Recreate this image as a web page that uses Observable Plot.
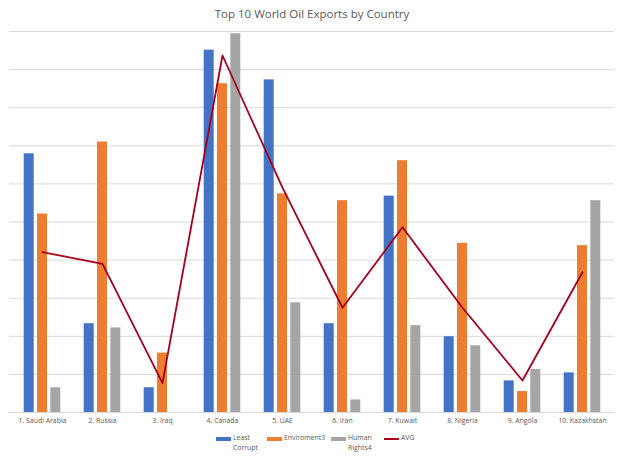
<!DOCTYPE html>
<html>
<head>
<meta charset="utf-8">
<script src="https://cdn.jsdelivr.net/npm/d3@7"></script>
<script src="https://cdn.jsdelivr.net/npm/@observablehq/plot@0.6"></script>
<style>
  body { margin: 0; background: #fff; font-family: "Open Sans", "Liberation Sans", sans-serif; color: #595959; }
  #wrap { width: 624px; height: 459px; position: relative; overflow: hidden; }
  #title { height: 26px; line-height: 28px; text-align: center; font-size: 11.5px; color: #595959; }
  #legend { position: absolute; top: 433px; left: 0; width: 624px; height: 26px; font-size: 6.9px; color: #595959; }
  .item { position: absolute; top: 0; display: flex; align-items: flex-start; }
  .sw { width: 15px; height: 4px; margin-top: 3.5px; margin-right: 2px; }
  .ln { width: 15px; height: 2px; margin-top: 4.5px; margin-right: 2px; }
  .lab { line-height: 9.5px; }
</style>
</head>
<body>
<div id="wrap">
  <div id="title">Top 10 World Oil Exports by Country</div>
  <div id="chart"></div>
  <div id="legend"></div>
</div>
<script>
const countries = ["1. Saudi Arabia", "2. Russia", "3. Iraq", "4. Canada", "5. UAE", "6. Iran", "7. Kuwait", "8. Nigeria", "9. Angola", "10. Kazakhstan"];
const leastCorrupt = [6.79, 2.33, 0.65, 9.51, 8.73, 2.33, 5.68, 1.99, 0.83, 1.04];
const enviroment3 = [5.21, 7.10, 1.56, 8.63, 5.74, 5.56, 6.61, 4.44, 0.55, 4.38];
const humanRights4 = [0.65, 2.22, 0, 9.94, 2.88, 0.33, 2.28, 1.75, 1.13, 5.56];
const avg = [4.21, 3.90, 0.77, 9.37, 5.90, 2.75, 4.86, 2.75, 0.84, 3.68];
const gridTicks = [0, 1, 2, 3, 4, 5, 6, 7, 8, 9, 10];

const colors = { blue: "#4472C4", orange: "#ED7D31", gray: "#A5A5A5", red: "#A8001C" };

const rows = countries.map((c, i) => ({ country: c, lc: leastCorrupt[i], env: enviroment3[i], hr: humanRights4[i], avg: avg[i] }));

const chart = Plot.plot({
  width: 624,
  height: 406,
  marginLeft: 9,
  marginRight: 10,
  marginTop: 5,
  marginBottom: 20,
  x: { type: "band", domain: countries, padding: 0 },
  y: { domain: [0, 10], axis: null },
  style: { fontFamily: "'Open Sans', 'Liberation Sans', sans-serif", color: "#595959", background: "#fff" },
  marks: [
    Plot.ruleY(gridTicks, { stroke: "#D9D9D9", strokeWidth: 1 }),
    Plot.barY(rows, { x: "country", y: "lc", fill: colors.blue, insetLeft: 11.7, insetRight: 38.3 }),
    Plot.barY(rows, { x: "country", y: "env", fill: colors.orange, insetLeft: 25, insetRight: 25 }),
    Plot.barY(rows, { x: "country", y: "hr", fill: colors.gray, insetLeft: 38.3, insetRight: 11.7 }),
    Plot.line(rows, { x: "country", y: "avg", stroke: colors.red, strokeWidth: 1.8 }),
    Plot.axisX({ tickSize: 0, tickPadding: 6, fontSize: 6.9, fill: "#595959", label: null })
  ]
});
document.getElementById("chart").appendChild(chart);

const legendItems = [
  { kind: "sw", color: colors.blue, lines: ["Least", "Corrupt"], x: 216 },
  { kind: "sw", color: colors.orange, lines: ["Enviroment3"], x: 267 },
  { kind: "sw", color: colors.gray, lines: ["Human", "Rights4"], x: 331 },
  { kind: "ln", color: colors.red, lines: ["AVG"], x: 384 }
];
const legend = document.getElementById("legend");
for (const it of legendItems) {
  const d = document.createElement("div");
  d.className = "item";
  d.style.left = it.x + "px";
  const s = document.createElement("div");
  s.className = it.kind;
  s.style.background = it.color;
  const t = document.createElement("div");
  t.className = "lab";
  t.innerHTML = it.lines.join("<br>");
  d.appendChild(s); d.appendChild(t);
  legend.appendChild(d);
}
</script>
</body>
</html>
